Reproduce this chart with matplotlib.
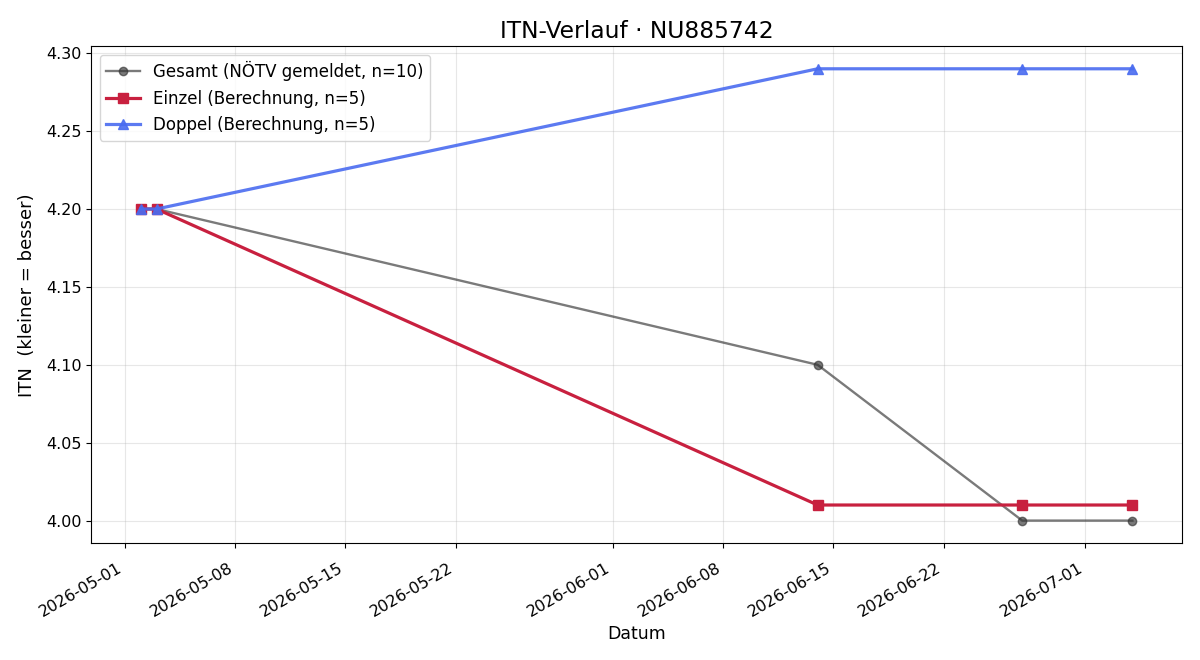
import numpy as np
import pandas as pd
import matplotlib
matplotlib.use("Agg")
import matplotlib.pyplot as plt

# data
dates = pd.to_datetime(["2026-05-02", "2026-05-03", "2026-06-14", "2026-06-27", "2026-07-04"])
itn_gesamt = [4.20, 4.20, 4.10, 4.00, 4.00]
itn_einzel = [4.20, 4.20, 4.01, 4.01, 4.01]
itn_doppel = [4.20, 4.20, 4.29, 4.29, 4.29]

fig, ax = plt.subplots(figsize=(12, 6.6), dpi=100)

ax.plot(dates, itn_gesamt, color='#333333', alpha=0.65, linewidth=1.7,
        marker='o', markersize=6, label='Gesamt (NÖTV gemeldet, n=10)')
ax.plot(dates, itn_einzel, color='#c8203f', linewidth=2.3,
        marker='s', markersize=7, label='Einzel (Berechnung, n=5)')
ax.plot(dates, itn_doppel, color='#4a6cf0', alpha=0.9, linewidth=2.3,
        marker='^', markersize=7, label='Doppel (Berechnung, n=5)')

ax.set_title('ITN-Verlauf · NU885742', fontsize=16.8)
ax.set_xlabel('Datum', fontsize=12.5)
ax.set_ylabel('ITN  (kleiner = besser)', fontsize=13, labelpad=7)
ax.tick_params(labelsize=11.5)
ax.tick_params(axis='x', pad=9)
ax.grid(True, alpha=0.3)
ax.legend(loc='upper left', fontsize=12)
fig.autofmt_xdate()

plt.subplots_adjust(left=0.076, right=0.985, top=0.930, bottom=0.177)
plt.savefig("out.png")
